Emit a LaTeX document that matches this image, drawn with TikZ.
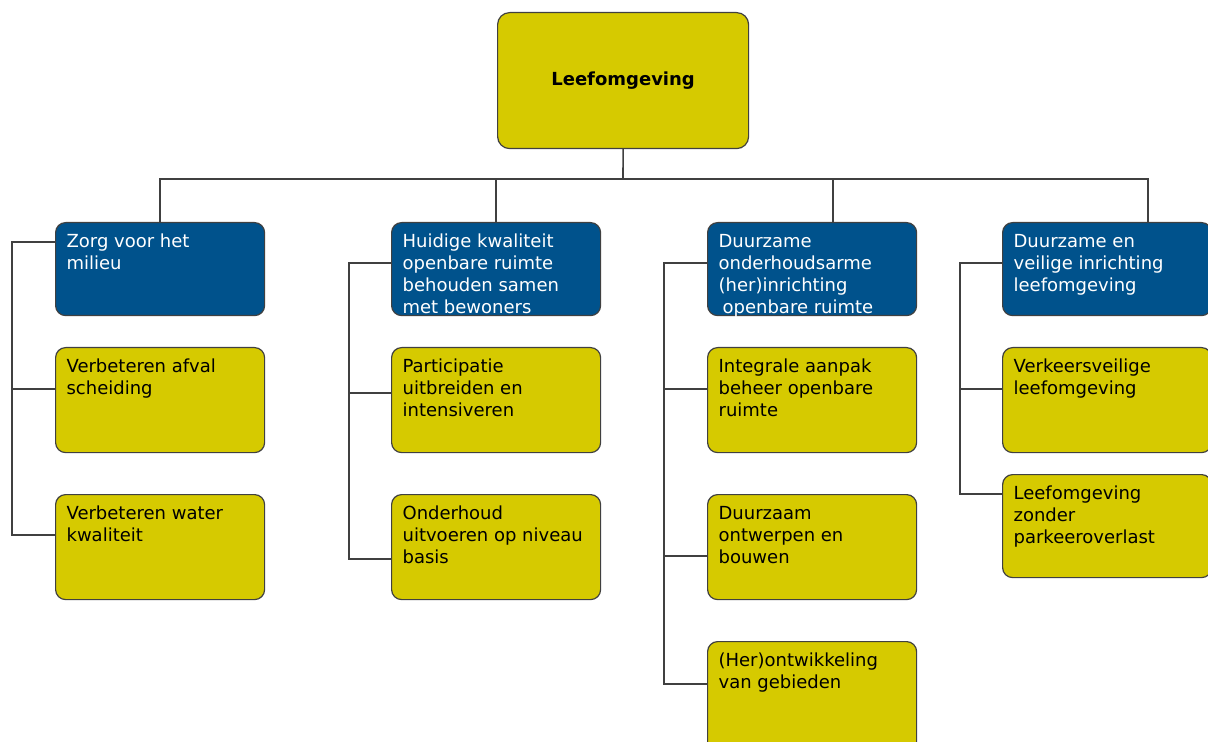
\documentclass[tikz,border=0pt]{standalone}
\usepackage{fontspec}
\setmainfont{DejaVu Sans}
\definecolor{boxyellow}{RGB}{214,202,0}
\definecolor{boxblue}{RGB}{0,82,140}
\newcommand{\boxtext}[3]{\parbox[t][#2][t]{#1}{\raggedright\rule{0pt}{12.5pt}#3}}
\tikzset{
  cell/.style={draw=black!75, line width=0.6pt, rounded corners=5pt, anchor=north west,
    inner xsep=5.5pt, inner ysep=0pt, font=\fontsize{9}{11}\selectfont},
  goal/.style={cell, fill=boxblue, text=white},
  task/.style={cell, fill=boxyellow, text=black},
  conn/.style={draw=black!75, line width=0.8pt}
}
\begin{document}
\begin{tikzpicture}[x=0.5pt, y=-0.5pt]
  \useasboundingbox (0,0) rectangle (1208,742);
  % top
  \node[task, rounded corners=6pt, minimum width=125.5pt, minimum height=68pt, font=\fontsize{9}{11}\selectfont\bfseries, anchor=north west]
    (root) at (497,12) {Leefomgeving};
  \coordinate (bus) at (623,179);
  % goals
  \node[goal] (l1) at (55,222) {\boxtext{93.5pt}{46.5pt}{Zorg voor het\\milieu}};
  \node[goal] (l2) at (391,222) {\boxtext{93.5pt}{46.5pt}{Huidige kwaliteit\\openbare ruimte\\behouden samen\\met bewoners}};
  \node[goal] (l3) at (707,222) {\boxtext{93.5pt}{46.5pt}{Duurzame\\onderhoudsarme\\(her)inrichting\\\hspace*{2pt}openbare ruimte}};
  \node[goal] (l4) at (1002,222) {\boxtext{93.5pt}{46.5pt}{Duurzame en\\veilige inrichting\\leefomgeving}};
  % tasks
  \node[task] (c11) at (55,347) {\boxtext{93.5pt}{52.5pt}{Verbeteren afval\\scheiding}};
  \node[task] (c12) at (55,494) {\boxtext{93.5pt}{52.5pt}{Verbeteren water\\kwaliteit}};
  \node[task] (c21) at (391,347) {\boxtext{93.5pt}{52.5pt}{Participatie\\uitbreiden en\\intensiveren}};
  \node[task] (c22) at (391,494) {\boxtext{93.5pt}{52.5pt}{Onderhoud\\uitvoeren op niveau\\basis}};
  \node[task] (c31) at (707,347) {\boxtext{93.5pt}{52.5pt}{Integrale aanpak\\beheer openbare\\ruimte}};
  \node[task] (c32) at (707,494) {\boxtext{93.5pt}{52.5pt}{Duurzaam\\ontwerpen en\\bouwen}};
  \node[task] (c33) at (707,641) {\boxtext{93.5pt}{58pt}{(Her)ontwikkeling\\van gebieden}};
  \node[task] (c41) at (1002,347) {\boxtext{93.5pt}{52.5pt}{Verkeersveilige\\leefomgeving}};
  \node[task] (c42) at (1002,474) {\boxtext{93.5pt}{51.5pt}{Leefomgeving\\zonder\\parkeeroverlast}};
  % tree lines
  \draw[conn] (root.south) -- (bus);
  \draw[conn] (l1.north) |- (bus);
  \draw[conn] (l2.north) |- (bus);
  \draw[conn] ([xshift=63pt]l3.north west) |- (bus);
  \draw[conn] ([xshift=73pt]l4.north west) |- (bus);
  % column 1
  \draw[conn] ([yshift=-10pt]l1.north west) -- ++(-43,0) coordinate (k1) |- ([yshift=-21pt]c11.north west);
  \draw[conn] (k1) |- ([yshift=-20.5pt]c12.north west);
  % column 2
  \draw[conn] ([yshift=-20.5pt]l2.north west) -- ++(-42,0) coordinate (k2) |- ([yshift=-23pt]c21.north west);
  \draw[conn] (k2) |- ([yshift=-32.5pt]c22.north west);
  % column 3
  \draw[conn] ([yshift=-20.5pt]l3.north west) -- ++(-43,0) coordinate (k3) |- ([yshift=-21pt]c31.north west);
  \draw[conn] (k3) |- ([yshift=-31pt]c32.north west);
  \draw[conn] (k3) |- ([yshift=-21.5pt]c33.north west);
  % column 4
  \draw[conn] ([yshift=-20.5pt]l4.north west) -- ++(-42,0) coordinate (k4) |- ([yshift=-21pt]c41.north west);
  \draw[conn] (k4) |- ([yshift=-10pt]c42.north west);
\end{tikzpicture}
\end{document}
